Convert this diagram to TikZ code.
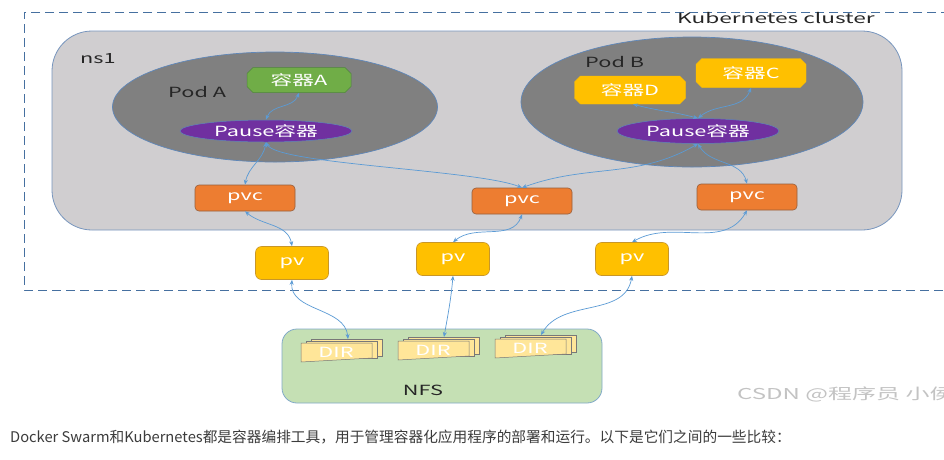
\documentclass[tikz,border=0pt]{standalone}
\usepackage{fontspec}
\usepackage{graphicx}
\setmainfont{Noto Sans CJK SC}
\usetikzlibrary{arrows.meta,shapes.misc,shapes.geometric}
\newcommand{\wx}[1]{\scalebox{1.55}[1]{#1}}
\definecolor{dashc}{RGB}{70,112,160}
\definecolor{nsfill}{RGB}{208,206,208}
\definecolor{nsline}{RGB}{120,150,190}
\definecolor{podfill}{RGB}{128,128,128}
\definecolor{podline}{RGB}{95,135,185}
\definecolor{greenc}{RGB}{112,173,71}
\definecolor{greenl}{RGB}{80,135,60}
\definecolor{yellowc}{RGB}{255,192,0}
\definecolor{yellowl}{RGB}{200,150,40}
\definecolor{purplec}{RGB}{112,48,160}
\definecolor{orangec}{RGB}{237,125,49}
\definecolor{orangel}{RGB}{150,95,60}
\definecolor{nfsfill}{RGB}{197,224,180}
\definecolor{nfsline}{RGB}{130,170,200}
\definecolor{arrowc}{RGB}{91,155,213}
\definecolor{dirfill}{RGB}{255,230,153}
\definecolor{dirline}{RGB}{120,120,120}
\definecolor{wmc}{RGB}{195,195,195}
\definecolor{bodyc}{RGB}{60,60,60}
\begin{document}
\begin{tikzpicture}[x=1pt,y=-1pt,
  conn/.style={draw=arrowc,line width=0.7pt,{Stealth[length=5pt,width=4pt]}-{Stealth[length=5pt,width=4pt]}},
  podshape/.style={ellipse,draw=podline,fill=podfill,line width=0.7pt,inner sep=0pt},
  ctr/.style={chamfered rectangle,chamfered rectangle xsep=3pt,chamfered rectangle ysep=3pt,text=white,font=\fontsize{14}{14}\selectfont,inner sep=0pt},
  pausebox/.style={ellipse,fill=purplec,draw=podline,line width=0.5pt,text=white,font=\fontsize{14}{14}\selectfont,inner sep=0pt,minimum height=22pt},
  pvcbox/.style={rectangle,rounded corners=4pt,fill=orangec,draw=orangel,line width=0.6pt,text=white,font=\fontsize{14}{14}\selectfont,minimum width=100pt,minimum height=26pt,inner sep=0pt},
  pvbox/.style={rectangle,rounded corners=6pt,fill=yellowc,draw=yellowl,line width=0.6pt,text=white,font=\fontsize{14}{14}\selectfont,minimum width=73pt,minimum height=33pt,inner sep=0pt},
  lbl/.style={font=\fontsize{14}{14}\selectfont,text=black!85,inner sep=0pt},
  dirsheet/.style={fill=dirfill,draw=dirline,line width=0.5pt},
  dirtext/.style={text=white,font=\fontsize{14}{14}\selectfont,inner sep=0pt}
]
\useasboundingbox (0,0) rectangle (944,459);
\fill[white] (0,0) rectangle (944,459);
\begin{scope}
\clip (0,0) rectangle (944,459);
% cluster dashed box
\draw[dashc,line width=1pt,dash pattern=on 9pt off 5pt] (950,12) -- (24,12) -- (24,290) -- (950,290);
\node[lbl,anchor=west] (kc) at (677,18) {\scalebox{1.62}[1]{Kubernetes cluster}};
% ns1
\draw[nsline,line width=0.8pt,fill=nsfill,rounded corners=40pt] (52,31) rectangle (902,230);
\node[lbl,anchor=west] (ns1) at (80,59) {\wx{ns1}};
% pods
\node[podshape,minimum width=325pt,minimum height=110pt] (podA) at (275,107) {};
\node[podshape,minimum width=342pt,minimum height=130pt] (podB) at (692,102) {};
\node[lbl,anchor=west] (podAl) at (168,92) {\wx{Pod A}};
\node[lbl,anchor=west] (podBl) at (585,62) {\wx{Pod B}};
% containers
\node[ctr,fill=greenc,draw=greenl,line width=0.5pt,minimum width=104pt,minimum height=25pt] (cA) at (299,80) {\wx{容器A}};
\node[ctr,fill=yellowc,draw=yellowc,minimum width=111pt,minimum height=28pt] (cD) at (630,90) {\wx{容器D}};
\node[ctr,fill=yellowc,draw=yellowc,minimum width=110pt,minimum height=29pt] (cC) at (751,73) {\wx{容器C}};
\node[pausebox,minimum width=172pt,minimum height=22pt] (pA) at (266,131) {\wx{Pause容器}};
\node[pausebox,minimum width=162pt,minimum height=25pt] (pB) at (698,131) {\wx{Pause容器}};
% pvc
\node[pvcbox] (pvc1) at (245,198) {\wx{pvc}};
\node[pvcbox] (pvc2) at (522,201) {\wx{pvc}};
\node[pvcbox] (pvc3) at (747,197) {\wx{pvc}};
% pv
\node[pvbox] (pv1) at (292,263) {\wx{pv}};
\node[pvbox] (pv2) at (453,259) {\wx{pv}};
\node[pvbox] (pv3) at (632,259) {\wx{pv}};
% NFS
\draw[nfsline,fill=nfsfill,line width=0.8pt,rounded corners=15pt] (282,329) rectangle (602,403);
\node[lbl] (nfs) at (423,390) {\wx{NFS}};
% DIR stacks
\foreach \x/\y/\n in {301/343/dir1, 398/341/dir2, 495/339/dir3}{
  \draw[dirsheet] (\x+10,\y-4) rectangle (\x+81,\y+13);
  \draw[dirsheet] (\x+5,\y-2) rectangle (\x+76,\y+15);
  \draw[dirsheet] (\x,\y) -- (\x+71,\y) -- (\x+71,\y+15) -- (\x,\y+19) -- cycle;
  \node[dirtext] (\n) at (\x+35,\y+9) {\wx{DIR}};
}
\coordinate (d1) at (348,339);
\coordinate (d2) at (444,337);
\coordinate (d3) at (541,335);
% connectors
\draw[conn] (cA.south) to[out=-110,in=70] (pA.north);
\draw[conn] ([xshift=3pt]cD.south) to[out=-15,in=165] (pB.north);
\draw[conn] (cC.south) to[out=-110,in=40] (pB.north);
\draw[conn] (pA.south) to[out=-100,in=80] (pvc1.north);
\draw[conn] (pA.south) .. controls +(12,22) and +(-45,-18) .. (pvc2.north);
\draw[conn] (pB.south) to[out=-150,in=20] (pvc2.north);
\draw[conn] (pB.south) to[out=-60,in=105] (pvc3.north);
\draw[conn] (pvc1.south) to[out=-40,in=100] (pv1.north);
\draw[conn] (pvc2.south) to[out=-110,in=40] (pv2.north);
\draw[conn] (pvc3.south) to[out=-120,in=30] (pv3.north);
\draw[conn] (pv1.south) to[out=-95,in=95] (d1);
\draw[conn] (pv2.south) to[out=-95,in=80] (d2);
\draw[conn] (pv3.south) to[out=-100,in=60] (d3);
% watermark
\node[font=\fontsize{15}{15}\selectfont,text=wmc,anchor=west,inner sep=0pt] (wm) at (737,394) {\scalebox{1.6}[1]{CSDN @程序员 小侯}};
% body text
\node[font=\fontsize{14.7}{14.7}\selectfont,text=bodyc,anchor=west,inner sep=0pt] (body) at (10,437) {Docker Swarm和Kubernetes都是容器编排工具，用于管理容器化应用程序的部署和运行。以下是它们之间的一些比较：};
\end{scope}
\end{tikzpicture}
\end{document}
